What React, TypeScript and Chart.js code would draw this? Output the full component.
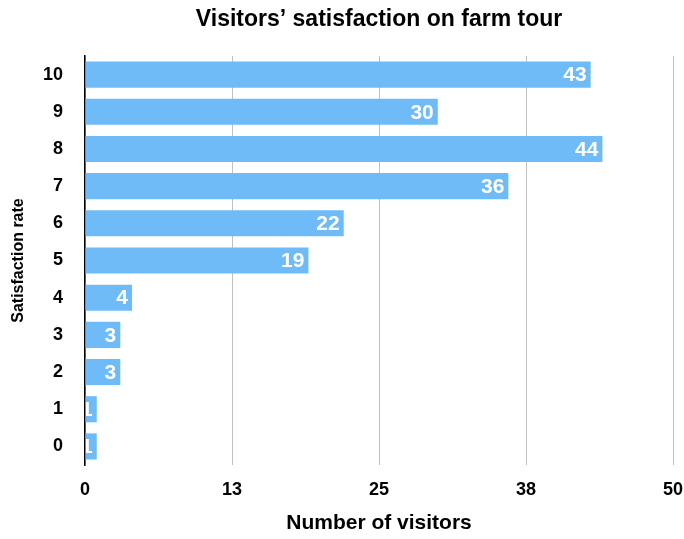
import React, { useEffect, useRef } from "react";
import { Chart, registerables } from "chart.js";

Chart.register(...registerables);

const categories = ["10", "9", "8", "7", "6", "5", "4", "3", "2", "1", "0"];
const visitors = [43, 30, 44, 36, 22, 19, 4, 3, 3, 1, 1];
const xMin = 0;
const xMax = 50;
const xStep = 12.5;
const titleText = "Visitors’ satisfaction on farm tour";
const xTitle = "Number of visitors";
const yTitle = "Satisfaction rate";

const FONT = "'Liberation Sans', Arial, sans-serif";

const labelsPlugin = {
  id: "barLabels",
  afterDatasetsDraw(chart: any) {
    const ctx = chart.ctx;
    const area = chart.chartArea;
    const meta = chart.getDatasetMeta(0);
    ctx.save();
    ctx.beginPath();
    ctx.rect(area.left + 1, area.top, area.right - area.left - 1, area.bottom - area.top);
    ctx.clip();
    ctx.fillStyle = "#ffffff";
    ctx.font = `bold 21px ${FONT}`;
    ctx.textAlign = "right";
    ctx.textBaseline = "middle";
    meta.data.forEach((bar: any, i: number) => {
      ctx.fillText(String(visitors[i]), bar.x - 4, bar.y + 1);
    });
    ctx.restore();
  },
};

const titlesPlugin = {
  id: "titles",
  afterDraw(chart: any) {
    const ctx = chart.ctx;
    const area = chart.chartArea;
    const cx = (area.left + area.right) / 2;
    ctx.save();
    ctx.fillStyle = "#000000";
    ctx.textAlign = "center";
    ctx.textBaseline = "middle";
    ctx.font = `bold 23px ${FONT}`;
    ctx.fillText(titleText, cx, 20);
    ctx.font = `bold 21px ${FONT}`;
    ctx.fillText(xTitle, cx, 523);
    ctx.translate(19, (area.top + area.bottom) / 2);
    ctx.rotate(-Math.PI / 2);
    ctx.font = `bold 16px ${FONT}`;
    ctx.fillText(yTitle, 0, 0);
    ctx.restore();
  },
};

export default function App() {
  const ref = useRef<HTMLCanvasElement>(null);
  useEffect(() => {
    document.body.style.margin = "0";
    const chart = new Chart(ref.current!, {
      type: "bar",
      data: {
        labels: categories,
        datasets: [
          {
            data: visitors,
            backgroundColor: "#6EBBF7",
            barPercentage: 0.78,
            categoryPercentage: 0.9,
          },
        ],
      },
      options: {
        indexAxis: "y",
        animation: false,
        responsive: false,
        layout: { padding: { top: 56, right: 11, bottom: 0, left: 0 } },
        plugins: { legend: { display: false }, tooltip: { enabled: false } },
        scales: {
          x: {
            min: xMin,
            max: xMax,
            afterFit: (s: any) => {
              s.height = 74;
              s.paddingRight = 0;
              s.paddingLeft = 0;
            },
            ticks: {
              stepSize: xStep,
              padding: 14,
              color: "#000",
              font: { family: FONT, weight: "bold", size: 18 },
              callback: (v: any) => String(Math.round(Number(v))),
            },
            grid: { color: "#c0c0c0", lineWidth: 1, drawTicks: false },
            border: { display: false },
          },
          y: {
            afterFit: (s: any) => {
              s.width = 85;
              s.paddingTop = 0;
              s.paddingBottom = 0;
            },
            ticks: {
              padding: 22,
              color: "#000",
              font: { family: FONT, weight: "bold", size: 18 },
            },
            grid: { display: false, drawTicks: false },
            border: { display: true, color: "#000", width: 1.5 },
          },
        },
      },
      plugins: [labelsPlugin, titlesPlugin],
    });
    return () => chart.destroy();
  }, []);
  return (
    <div style={{ width: 684, height: 539, background: "#fff" }}>
      <canvas ref={ref} width={684} height={539} style={{ display: "block" }} />
    </div>
  );
}
